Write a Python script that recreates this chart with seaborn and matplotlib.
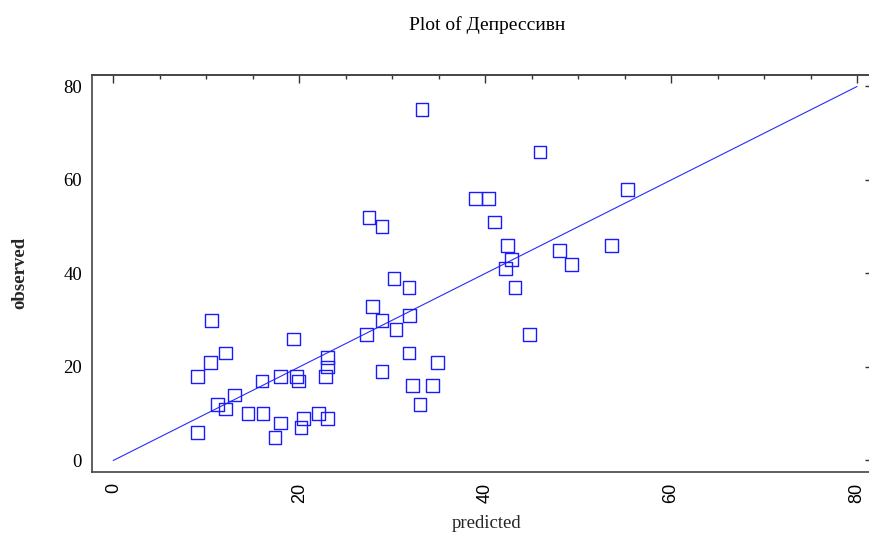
import matplotlib
matplotlib.use("Agg")
import matplotlib.pyplot as plt
from matplotlib.ticker import MultipleLocator
import seaborn as sns
import pandas as pd

predicted = [33.2, 45.9, 55.3, 27.5, 28.9, 39.0, 40.4, 41.0, 42.4, 42.8,
             42.2, 43.2, 48.0, 49.3, 53.6, 44.8, 30.2, 27.9, 31.8, 27.2,
             28.9, 30.4, 31.9, 31.8, 34.9, 28.9, 32.2, 34.3, 33.0, 23.0,
             23.0, 22.8, 23.0, 22.1, 20.5, 20.2, 19.4, 19.7, 19.9, 18.0,
             16.0, 16.1, 14.5, 18.0, 17.4, 13.0, 12.1, 11.2, 9.1, 9.1,
             10.6, 10.5, 12.1]
observed = [75, 66, 58, 52, 50, 56, 56, 51, 46, 43,
            41, 37, 45, 42, 46, 27, 39, 33, 37, 27,
            30, 28, 31, 23, 21, 19, 16, 16, 12, 22,
            20, 18, 9, 10, 9, 7, 26, 18, 17, 18,
            17, 10, 10, 8, 5, 14, 11, 12, 6, 18,
            30, 21, 23]
line_x = [0, 80]
line_y = [0, 80]
xticks = [0, 20, 40, 60, 80]
yticks = [0, 20, 40, 60, 80]

sns.set_style("white")
plt.rcParams['font.family'] = ['Liberation Serif', 'DejaVu Serif']
plt.rcParams['text.color'] = 'black'
plt.rcParams['xtick.color'] = 'black'
plt.rcParams['ytick.color'] = 'black'

W, H = 869, 535
fig = plt.figure(figsize=(W / 100, H / 100), dpi=100)
left_px, right_px, top_px, bottom_px = 91.7, 871, 75, 471.7
ax = fig.add_axes([left_px / W, 1 - bottom_px / H,
                   (right_px - left_px) / W, (bottom_px - top_px) / H])

df = pd.DataFrame({"predicted": predicted, "observed": observed})
sns.lineplot(x=line_x, y=line_y, ax=ax, color="#2a2aff", linewidth=0.8)
sns.scatterplot(data=df, x="predicted", y="observed", ax=ax, marker="s",
                s=85, facecolor="none", edgecolor="#1a1aff", linewidth=1.0,
                zorder=3)

ax.set_xlim(-2.32, 81.5)
ax.set_ylim(-2.4, 82.46)
ax.set_xticks(xticks)
ax.set_yticks(yticks)
ax.xaxis.set_minor_locator(MultipleLocator(5))
ax.yaxis.set_minor_locator(MultipleLocator(5))

for s in ax.spines.values():
    s.set_color("#444444")
    s.set_linewidth(1.2)
    s.set_visible(True)

ax.tick_params(axis="y", which="major", direction="in", length=10.8, width=1.0,
               color="#333333", pad=7, labelsize=13.5, labelcolor="black")
ax.tick_params(axis="y", which="minor", direction="in", length=5.8, width=1.0,
               color="#333333")
ax.tick_params(axis="x", which="major", direction="in", length=6.5, width=1.0,
               color="#333333", pad=8, labelsize=13, labelcolor="black")
ax.tick_params(axis="x", which="minor", direction="in", length=3, width=1.0,
               color="#333333")
for lab in ax.get_xticklabels():
    lab.set_rotation(90)
    lab.set_family(['Liberation Sans', 'DejaVu Sans'])
for lab in ax.get_yticklabels():
    lab.set_family(['Liberation Serif', 'DejaVu Serif'])

# top and right ticks
top = ax.secondary_xaxis('top')
top.set_xticks(xticks)
top.xaxis.set_minor_locator(MultipleLocator(5))
top.tick_params(axis="x", which="major", direction="in", length=6, width=1.0,
                color="#333333", labeltop=False)
top.tick_params(axis="x", which="minor", direction="in", length=3, width=1.0,
                color="#333333")
top.spines['top'].set_color("#444444")
top.spines['top'].set_linewidth(1.2)

right = ax.secondary_yaxis('right')
right.set_yticks(yticks)
right.tick_params(axis="y", which="major", direction="in", length=4, width=1.0,
                  color="#333333", labelright=False)
right.tick_params(axis="y", which="minor", length=0)

ax.set_xlabel("predicted", fontsize=13.5, family=['Liberation Serif', 'DejaVu Serif'])
ax.xaxis.set_label_coords((487 - left_px) / (right_px - left_px),
                          -(523 - bottom_px) / (bottom_px - top_px))
ax.xaxis.label.set_va("center")
ax.set_ylabel("observed", fontsize=13.5, fontweight="bold",
              family=['Liberation Serif', 'DejaVu Serif'])
ax.yaxis.set_label_coords(-(left_px - 20) / (right_px - left_px), 0.5)
ax.yaxis.label.set_va("center")

fig.text(487 / W, 1 - 25 / H, "Plot of Депрессивн", ha="center", va="center",
         fontsize=14, family=['Liberation Serif', 'DejaVu Serif'])

fig.savefig("out.png", dpi=100)
